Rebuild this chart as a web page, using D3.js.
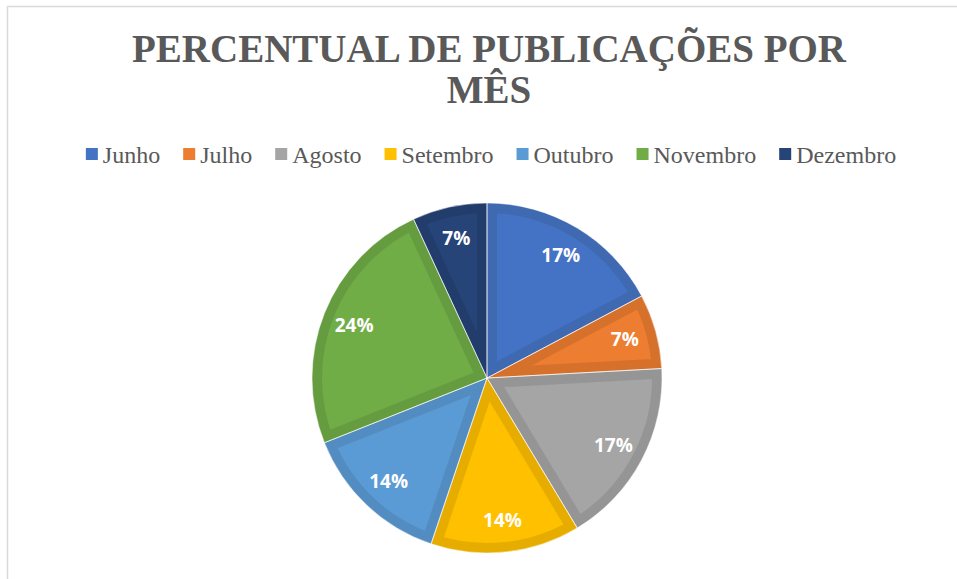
<!DOCTYPE html>
<html>
<head>
<meta charset="utf-8">
<script src="https://cdn.jsdelivr.net/npm/d3@7"></script>
<style>
  body { margin: 0; background: #fff; }
  svg { display: block; }
</style>
</head>
<body>
<svg id="chart" width="957" height="579"></svg>
<script>
// chart data (counts of publications per month)
const months = ["Junho", "Julho", "Agosto", "Setembro", "Outubro", "Novembro", "Dezembro"];
const counts = [5, 2, 5, 4, 4, 7, 2];
const fills = ["#4472C4", "#ED7D31", "#A5A5A5", "#FFC000", "#5B9BD5", "#70AD47", "#264478"];
const borders = ["#3F69B1", "#D6712C", "#959595", "#E6AD00", "#528CC0", "#659C40", "#223D6C"];
const titleLines = ["PERCENTUAL DE PUBLICAÇÕES POR", "MÊS"];

const svg = d3.select("#chart");
const cx = 487, cy = 378, radius = 175;

// frame of the chart area
svg.append("rect")
   .attr("x", 7.5).attr("y", 6.5)
   .attr("width", 1000).attr("height", 700)
   .attr("fill", "none")
   .attr("stroke", "#d9d9d9")
   .attr("stroke-width", 1.5);

// title
svg.append("text")
   .attr("text-anchor", "middle")
   .attr("font-family", "'Liberation Serif', 'Times New Roman', serif")
   .attr("font-weight", "bold")
   .attr("font-size", 39)
   .attr("fill", "#595959")
   .selectAll("tspan")
   .data(titleLines)
   .enter()
   .append("tspan")
   .attr("x", 489)
   .attr("y", (d, i) => 62 + i * 41)
   .text(d => d);

// legend - measure labels then center the whole row
let legend = svg.append("g");
let items = legend.selectAll("g")
                  .data(months)
                  .enter()
                  .append("g");
items.append("rect")
     .attr("width", 12).attr("height", 12)
     .attr("y", -7)
     .attr("fill", (d, i) => fills[i]);
items.append("text")
     .attr("x", 17)
     .attr("dy", "0.32em")
     .attr("font-family", "'Liberation Serif', 'Times New Roman', serif")
     .attr("font-size", 24)
     .attr("fill", "#595959")
     .text(d => d);
let xpos = 0;
items.each(function() {
  let w = 17 + this.querySelector("text").getComputedTextLength();
  d3.select(this).attr("transform", "translate(" + xpos + ",0)");
  xpos += w + 23;
});
xpos -= 23;
legend.attr("transform", "translate(" + (491 - xpos / 2) + ",155)");

// pie
const pie = d3.pie().sort(null).value(d => d);
const arc = d3.arc().innerRadius(0).outerRadius(radius);
const labelArc = d3.arc().innerRadius(143).outerRadius(143);
const total = d3.sum(counts);

let g = svg.append("g").attr("transform", "translate(" + cx + "," + cy + ")");
let defs = svg.append("defs");
let slices = pie(counts);

slices.forEach(function(s, i) {
  defs.append("clipPath")
      .attr("id", "clip" + i)
      .append("path")
      .attr("d", arc(s));
});

// slices: fill + inner darker band (stroke clipped to the slice)
g.selectAll("path.slice")
 .data(slices)
 .enter()
 .append("path")
 .attr("class", "slice")
 .attr("d", arc)
 .attr("fill", (d, i) => fills[i])
 .attr("stroke", (d, i) => borders[i])
 .attr("stroke-width", 20)
 .attr("stroke-linejoin", "miter")
 .attr("clip-path", (d, i) => "url(#clip" + i + ")");

// thin separators
g.selectAll("path.sep")
 .data(slices)
 .enter()
 .append("path")
 .attr("class", "sep")
 .attr("d", arc)
 .attr("fill", "none")
 .attr("stroke", "#ffffff")
 .attr("stroke-width", 0.8)
 .attr("stroke-opacity", 0.7);

// percentage labels
g.selectAll("text.lbl")
 .data(slices)
 .enter()
 .append("text")
 .attr("class", "lbl")
 .attr("transform", d => "translate(" + labelArc.centroid(d) + ")")
 .attr("text-anchor", "middle")
 .attr("dy", "0.35em")
 .attr("font-family", "'Open Sans', Lato, sans-serif")
 .attr("font-weight", "bold")
 .attr("font-size", 19)
 .attr("fill", "#ffffff")
 .text(d => Math.round(d.value / total * 100) + "%");
</script>
</body>
</html>
